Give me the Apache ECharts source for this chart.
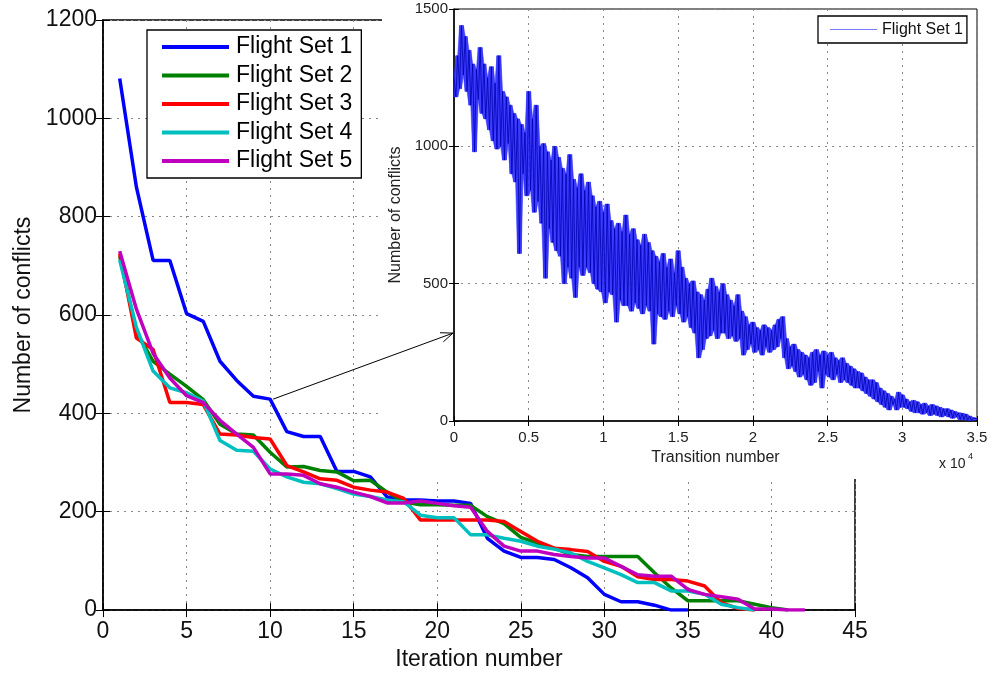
<!DOCTYPE html>
<html><head><meta charset="utf-8">
<script src="https://cdn.jsdelivr.net/npm/echarts@6/dist/echarts.min.js"></script>
<style>html,body{margin:0;padding:0;background:#fff}#c{width:991px;height:676px}</style>
</head><body><div id="c"></div>
<script>
// ---------- data ----------
const iterations = [1,2,3,4,5,6,7,8,9,10,11,12,13,14,15,16,17,18,19,20,21,22,23,24,25,26,27,28,29,30,31,32,33,34,35,36,37,38,39,40,41,42];
const flightSet1 = [1081,860,711,711,603,587,506,467,435,429,363,353,353,282,282,271,230,224,224,222,222,217,146,120,107,107,103,86,66,32,17,17,10,0,0];
const flightSet2 = [720,566,506,480,455,428,378,358,356,321,291,292,284,281,263,264,240,220,214,214,213,213,190,176,148,136,126,113,109,109,109,109,76,45,19,19,19,19,12,5,0];
const flightSet3 = [725,553,530,422,422,418,358,356,351,348,294,281,267,264,250,244,240,227,183,183,183,183,183,180,160,140,126,123,119,99,89,68,62,62,59,49,15,3,0];
const flightSet4 = [712,575,486,452,442,425,345,325,323,287,271,260,257,247,236,231,224,220,193,188,188,153,153,146,140,130,124,116,99,86,72,56,56,39,39,32,12,5,0];
const flightSet5 = [730,612,522,472,436,422,386,358,331,277,277,274,257,250,240,231,218,218,222,217,212,209,160,130,120,120,113,109,106,106,89,72,69,69,42,32,27,22,2,2,0,0];
const seriesNames = ['Flight Set 1','Flight Set 2','Flight Set 3','Flight Set 4','Flight Set 5'];
const seriesColors = ['#0000ff','#008000','#ff0000','#00bfbf','#bf00bf'];

// inset: conflicts per transition (Flight Set 1), sampled every insetStep transitions
const insetStep = 125;
const insetValues = [
 1250,1180,1330,1210,1440,1260,1400,1200,
 1350,1150,1300,980,1280,1170,1360,1120,
 1300,1100,1250,1060,1290,1020,1230,990,
 1330,1000,1200,950,1180,1010,1150,900,
 1120,870,1100,610,1080,900,1050,820,
 1200,840,1100,760,1150,800,1000,720,
 1010,520,980,700,950,650,1000,620,
 960,600,920,500,900,560,970,520,
 880,450,850,560,900,530,840,560,
 870,540,820,500,780,480,800,470,
 760,430,790,470,730,460,700,360,
 720,440,690,420,750,420,680,400,
 700,430,660,410,640,390,680,420,
 650,400,620,280,600,390,580,380,
 610,370,560,400,590,380,540,420,
 620,390,560,360,520,380,500,340,
 510,320,470,230,460,260,440,300,
 480,310,520,330,490,300,470,320,
 500,320,460,300,440,310,420,290,
 460,300,400,240,380,260,350,280,
 360,250,340,260,330,240,350,270,
 340,250,330,260,350,270,370,300,
 380,230,300,190,270,200,280,180,
 260,160,250,170,240,150,230,130,
 250,140,260,180,240,120,255,170,
 240,160,250,150,230,170,220,140,
 230,150,210,140,200,130,190,120,
 180,120,175,110,160,100,150,90,
 150,80,140,70,120,60,110,50,
 100,40,90,60,80,40,105,50,
 95,50,80,45,70,35,75,30,
 70,30,60,25,65,30,55,20,
 60,25,55,20,50,15,45,20,
 45,15,40,10,35,15,30,5,
 28,5,25,3,18,2,12,5,
 8];
const arrowTarget = { iteration: 10, insetValue: 320 };

// ---------- chart ----------
const FONT = "'Liberation Sans', Arial, Helvetica, sans-serif";
const allSets = [flightSet1, flightSet2, flightSet3, flightSet4, flightSet5];
const chart = echarts.init(document.getElementById('c'), null, { renderer: 'canvas' });
const dotted = { type: [2, 5], color: '#888', width: 1 };
const plain = v => String(v);

const mainSeries = allSets.map((vals, i) => ({
  name: seriesNames[i], type: 'line', xAxisIndex: 0, yAxisIndex: 0,
  data: vals.map((v, k) => [iterations[k], v]),
  showSymbol: false, symbol: 'none',
  lineStyle: { color: seriesColors[i], width: 3.5 },
  itemStyle: { color: seriesColors[i] }, z: 2
}));

// local range of the dense trace (the noise band), from neighbouring samples
const nIn = insetValues.length;
const insetLo = insetValues.map((v, k) => Math.min(v, insetValues[Math.max(0, k - 1)], insetValues[Math.min(nIn - 1, k + 1)]));
const insetHi = insetValues.map((v, k) => Math.max(v, insetValues[Math.max(0, k - 1)], insetValues[Math.min(nIn - 1, k + 1)]));

const insetSeries = [
  { name: 'band', type: 'custom', xAxisIndex: 2, yAxisIndex: 2, z: 11, silent: true,
    data: insetLo.map((v, k) => [k * insetStep, v, insetHi[k]]),
    encode: { x: 0, y: [1, 2] },
    renderItem: (params, api) => {
      const i = params.dataIndex;
      if (i >= nIn - 1) return null;
      const x0 = i * insetStep, x1 = (i + 1) * insetStep;
      const pts = [api.coord([x0, insetLo[i]]), api.coord([x1, insetLo[i + 1]]),
                   api.coord([x1, insetHi[i + 1]]), api.coord([x0, insetHi[i]])];
      return { type: 'polygon', shape: { points: pts },
               style: { fill: '#2a2aff', stroke: '#2a2aff', lineWidth: 0.6, opacity: 0.88 } };
    } },
  { name: 'Flight Set 1', type: 'line', xAxisIndex: 2, yAxisIndex: 2,
    data: insetValues.map((v, k) => [k * insetStep, v]),
    showSymbol: false, symbol: 'none', sampling: null,
    lineStyle: { color: '#0000b0', width: 0.8 }, z: 12 }
];

function axisCommon(extra) {
  return Object.assign({
    axisLine: { show: true, onZero: false, lineStyle: { color: '#000', width: 1.5 } },
    axisTick: { show: true, inside: true, length: 7, lineStyle: { color: '#000' } },
  }, extra);
}

chart.setOption({
  animation: false,
  backgroundColor: '#fff',
  textStyle: { fontFamily: FONT },
  grid: [
    { left: 103, top: 20, width: 752, height: 594, show: true, borderColor: '#000', borderWidth: 1.5, z: 0 },
    { left: 454, top: 9, width: 523, height: 412, show: true, borderColor: '#000', borderWidth: 1, backgroundColor: '#fff', z: 5 }
  ],
  xAxis: [
    axisCommon({ gridIndex: 0, type: 'value', position: 'bottom', min: 0, max: 45, interval: 5,
      axisLabel: { fontSize: 23, color: '#111', margin: 10, fontFamily: FONT, formatter: plain },
      splitLine: { show: true, lineStyle: dotted },
      name: 'Iteration number', nameLocation: 'middle', nameGap: 35,
      nameTextStyle: { fontSize: 23, color: '#111', fontFamily: FONT } }),
    axisCommon({ gridIndex: 0, type: 'value', position: 'top', min: 0, max: 45, interval: 5,
      axisLine: { show: false }, axisLabel: { show: false }, splitLine: { show: false } }),
    axisCommon({ gridIndex: 1, type: 'value', position: 'bottom', min: 0, max: 35000, interval: 5000, z: 10,
      axisLine: { show: true, onZero: false, lineStyle: { color: '#000', width: 1.5 } },
      axisLabel: { fontSize: 15, color: '#222', margin: 9, fontFamily: FONT, formatter: v => String(v / 10000) },
      splitLine: { show: true, lineStyle: dotted },
      axisTick: { show: true, inside: true, length: 5, lineStyle: { color: '#000' } },
      name: 'Transition number', nameLocation: 'middle', nameGap: 25,
      nameTextStyle: { fontSize: 16, color: '#222', fontFamily: FONT } }),
    axisCommon({ gridIndex: 1, type: 'value', position: 'top', min: 0, max: 35000, interval: 5000, z: 10,
      axisLine: { show: false }, axisLabel: { show: false }, splitLine: { show: false },
      axisTick: { show: true, inside: true, length: 5, lineStyle: { color: '#000' } } })
  ],
  yAxis: [
    axisCommon({ gridIndex: 0, type: 'value', position: 'left', min: 0, max: 1200, interval: 200,
      axisLabel: { fontSize: 23, color: '#111', margin: 6, fontFamily: FONT, formatter: plain },
      splitLine: { show: true, lineStyle: dotted },
      name: 'Number of conflicts', nameLocation: 'middle', nameGap: 64, nameRotate: 90,
      nameTextStyle: { fontSize: 23, color: '#111', fontFamily: FONT } }),
    axisCommon({ gridIndex: 0, type: 'value', position: 'right', min: 0, max: 1200, interval: 200,
      axisLine: { show: false }, axisLabel: { show: false }, splitLine: { show: false } }),
    axisCommon({ gridIndex: 1, type: 'value', position: 'left', min: 0, max: 1500, interval: 500, z: 10,
      axisLine: { show: true, onZero: false, lineStyle: { color: '#000', width: 1.5 } },
      axisLabel: { fontSize: 15, color: '#222', margin: 6, fontFamily: FONT, formatter: plain },
      splitLine: { show: true, lineStyle: dotted },
      axisTick: { show: true, inside: true, length: 5, lineStyle: { color: '#000' } },
      name: 'Number of conflicts', nameLocation: 'middle', nameGap: 44, nameRotate: 90,
      nameTextStyle: { fontSize: 16, color: '#222', fontFamily: FONT } }),
    axisCommon({ gridIndex: 1, type: 'value', position: 'right', min: 0, max: 1500, interval: 500, z: 10,
      axisLine: { show: false }, axisLabel: { show: false }, splitLine: { show: false },
      axisTick: { show: true, inside: true, length: 5, lineStyle: { color: '#000' } } })
  ],
  legend: [
    { data: seriesNames, orient: 'vertical', left: 147, top: 30,
      padding: [5.5, 9, 5.5, 15], itemWidth: 67, itemHeight: 4, itemGap: 5.5, icon: 'rect',
      textStyle: { fontSize: 23, lineHeight: 23, color: '#000', fontFamily: FONT, padding: [0, 0, 0, 2] },
      borderColor: '#000', borderWidth: 1.3, backgroundColor: '#fff', borderRadius: 0,
      selectedMode: false, z: 4 },
    { data: [{ name: 'Flight Set 1', icon: 'rect', itemStyle: { color: '#7777ff' } }],
      left: 818, top: 16, padding: [5, 4, 5, 12], itemWidth: 47, itemHeight: 1, itemGap: 0,
      textStyle: { fontSize: 16, lineHeight: 17, color: '#111', fontFamily: FONT },
      borderColor: '#000', borderWidth: 1.3, backgroundColor: '#fff', borderRadius: 0,
      selectedMode: false, z: 14 }
  ],
  series: mainSeries.concat(insetSeries),
  graphic: [
    { id: 'cover', type: 'rect', shape: { x: 382, y: 0, width: 609, height: 479 }, style: { fill: '#fff' }, z: 3, silent: true },
    { id: 'xexp', type: 'text', x: 939, y: 457, z: 20, style: { text: 'x 10', fontSize: 14, fill: '#222', fontFamily: FONT } },
    { id: 'xexp4', type: 'text', x: 968, y: 452, z: 20, style: { text: '4', fontSize: 9, fill: '#222', fontFamily: FONT } }
  ]
});

// arrow from the zoomed point of the main chart to the inset
const k = iterations.indexOf(arrowTarget.iteration);
const p1 = chart.convertToPixel({ xAxisIndex: 0, yAxisIndex: 0 }, [arrowTarget.iteration, flightSet1[k]]);
const p2 = chart.convertToPixel({ xAxisIndex: 2, yAxisIndex: 2 }, [0, arrowTarget.insetValue]);
const sx = p1[0] + 3, sy = p1[1];
const ex = p2[0] - 1, ey = p2[1];
const ang = Math.atan2(ey - sy, ex - sx);
const hl = 13, ha = 0.38;
const h1 = [ex - hl * Math.cos(ang - ha), ey - hl * Math.sin(ang - ha)];
const h2 = [ex - hl * Math.cos(ang + ha), ey - hl * Math.sin(ang + ha)];
chart.setOption({
  graphic: [
    { id: 'arrowLine', type: 'line', z: 20, shape: { x1: sx, y1: sy, x2: ex, y2: ey }, style: { stroke: '#000', lineWidth: 1 } },
    { id: 'arrowHead', type: 'polyline', z: 20, shape: { points: [h1, [ex, ey], h2] }, style: { stroke: '#000', lineWidth: 1, fill: null } }
  ]
});
</script>
</body></html>
